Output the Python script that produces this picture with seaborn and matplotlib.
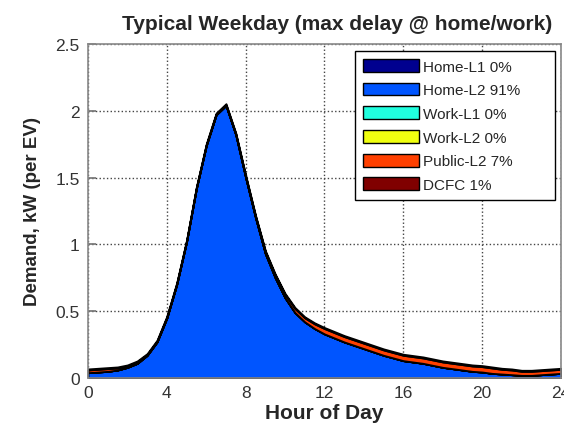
import numpy as np
import pandas as pd
import matplotlib
matplotlib.use("Agg")
import matplotlib.pyplot as plt
from matplotlib.patches import Patch
import seaborn as sns

# half-hour resolution
hours = np.arange(0, 24.5, 0.5)
home_l2 = [0.04, 0.045, 0.05, 0.06, 0.08, 0.11, 0.17, 0.27, 0.45, 0.70,
           1.02, 1.42, 1.74, 1.97, 2.04, 1.82, 1.50, 1.20, 0.93, 0.75,
           0.60, 0.49, 0.42, 0.37, 0.33, 0.30, 0.27, 0.245, 0.22, 0.195,
           0.17, 0.15, 0.13, 0.12, 0.11, 0.095, 0.08, 0.07, 0.06, 0.05,
           0.045, 0.035, 0.03, 0.025, 0.02, 0.02, 0.025, 0.03, 0.035]
public_l2 = [0.02, 0.02, 0.02, 0.015, 0.01, 0.01, 0.005, 0.005, 0.005, 0.005,
             0.005, 0.005, 0.005, 0.005, 0.005, 0.005, 0.01, 0.01, 0.015, 0.02,
             0.025, 0.03, 0.03, 0.035, 0.04, 0.04, 0.04, 0.04, 0.04, 0.04,
             0.04, 0.04, 0.04, 0.04, 0.04, 0.04, 0.04, 0.04, 0.04, 0.04,
             0.04, 0.04, 0.035, 0.035, 0.03, 0.03, 0.03, 0.03, 0.03]
dcfc = [0.008] * len(hours)
zeros = [0.0] * len(hours)

labels = ["Home-L1 0%", "Home-L2 91%", "Work-L1 0%", "Work-L2 0%",
          "Public-L2 7%", "DCFC 1%"]
colors = ["#00008f", "#0055ff", "#20ffdf", "#f0ff10", "#ff4000", "#800000"]

df = pd.DataFrame({
    "hour": hours,
    "Home-L1": zeros,
    "Home-L2": home_l2,
    "Work-L1": zeros,
    "Work-L2": zeros,
    "Public-L2": public_l2,
    "DCFC": dcfc,
})

sns.set_theme(style="ticks")
plt.rcParams["font.family"] = ["Liberation Sans", "DejaVu Sans"]

fig = plt.figure(figsize=(5.64, 4.35), dpi=100)
ax = fig.add_axes([0.156, 0.1287, 0.8387, 0.768])

series = [df[c] for c in ["Home-L1", "Home-L2", "Work-L1", "Work-L2", "Public-L2", "DCFC"]]
ax.stackplot(df["hour"], *series, colors=colors, edgecolor="black", linewidth=1.3)

ax.set_xlim(0, 24)
ax.set_ylim(0, 2.5)
ax.set_xticks([0, 4, 8, 12, 16, 20, 24])
ax.set_yticks([0, 0.5, 1, 1.5, 2, 2.5])
ax.set_yticklabels(["0", "0.5", "1", "1.5", "2", "2.5"])
ax.grid(True, linestyle=":", color="#444444", linewidth=1)
ax.tick_params(direction="in", labelsize=12.5, labelcolor="#333333", color="#777777")
ax.tick_params(axis="y", pad=6)
ax.tick_params(axis="x", pad=5)
for s in ax.spines.values():
    s.set_color("#888888")
    s.set_linewidth(1.2)

ax.set_title("Typical Weekday (max delay @ home/work)", fontsize=15,
             fontweight="bold", pad=11, x=0.526)
ax.set_xlabel("Hour of Day", fontsize=15, fontweight="bold", labelpad=2)
ax.set_ylabel("Demand, kW (per EV)", fontsize=13.5, fontweight="bold", labelpad=10)

handles = [Patch(facecolor=c, edgecolor="black", linewidth=1) for c in colors]
leg = ax.legend(handles, labels, loc="upper left", fontsize=11, mode="expand",
                handlelength=3.7, handleheight=0.92, labelspacing=0.59,
                handletextpad=0.2, borderpad=0.52, frameon=True,
                fancybox=False, framealpha=1, edgecolor="black",
                bbox_to_anchor=(0.5645, 0.527, 0.4225, 0.452), borderaxespad=0)
leg.get_frame().set_linewidth(1)

fig.savefig("out.png", dpi=100)
